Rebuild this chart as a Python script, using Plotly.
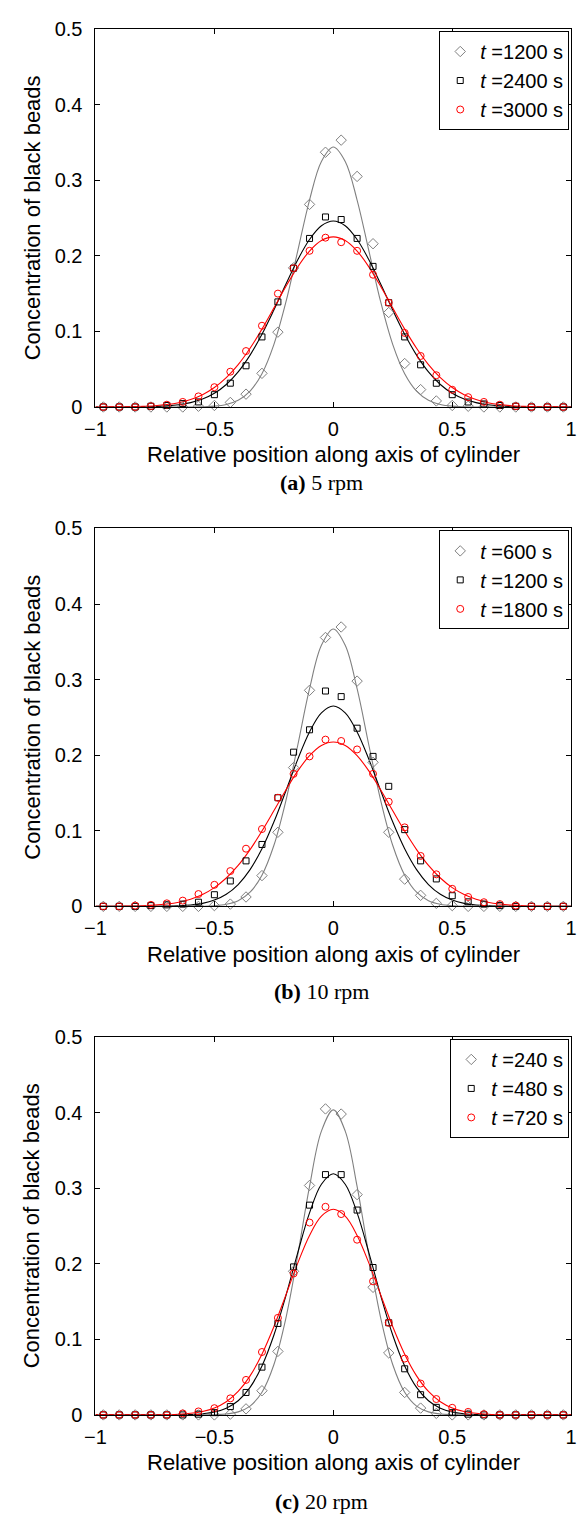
import plotly.graph_objects as go

W, H = 583, 1522

# ---------------- data ----------------
x_pos = [-0.967, -0.9, -0.833, -0.767, -0.7, -0.633, -0.567, -0.5, -0.433, -0.367,
         -0.3, -0.233, -0.167, -0.1, -0.033, 0.033, 0.1, 0.167, 0.233, 0.3,
         0.367, 0.433, 0.5, 0.567, 0.633, 0.7, 0.767, 0.833, 0.9, 0.967]

fit_x = [-1.0, -0.95, -0.9, -0.85, -0.8, -0.75, -0.7, -0.65, -0.6, -0.55,
         -0.5, -0.45, -0.4, -0.35, -0.3, -0.25, -0.2, -0.15, -0.1, -0.05,
         0.0, 0.05, 0.1, 0.15, 0.2, 0.25, 0.3, 0.35, 0.4, 0.45,
         0.5, 0.55, 0.6, 0.65, 0.7, 0.75, 0.8, 0.85, 0.9, 0.95, 1.0]

# (a) 5 rpm
a_gray_pts = [0, 0, 0, 0, 0, 0, 0.001, 0.002, 0.006, 0.017, 0.0445, 0.099, 0.184, 0.268, 0.337,
              0.353, 0.305, 0.216, 0.125, 0.0575, 0.023, 0.008, 0.002, 0.001, 0, 0, 0, 0, 0, 0]
a_black_pts = [0, 0, 0, 0.001, 0.002, 0.0045, 0.0067, 0.0163, 0.0315, 0.0545, 0.0927, 0.139, 0.1836, 0.223, 0.2514,
               0.248, 0.223, 0.186, 0.138, 0.0927, 0.0558, 0.0314, 0.0163, 0.0066, 0.004, 0.002, 0.001, 0, 0, 0]
a_red_pts = [0, 0, 0, 0.001, 0.003, 0.0067, 0.014, 0.0262, 0.0467, 0.074, 0.1075, 0.15, 0.1836, 0.2066, 0.224,
             0.218, 0.2066, 0.175, 0.138, 0.098, 0.0675, 0.042, 0.0228, 0.013, 0.0067, 0.003, 0.001, 0, 0, 0]
a_gray_fit = [0, 0, 0, 0, 0, 0, 0, 0, 0, 0.0003, 0.0011, 0.0034, 0.0089, 0.021, 0.0441, 0.0826, 0.138, 0.2058, 0.2738, 0.3249,
              0.344, 0.3249, 0.2738, 0.2058, 0.138, 0.0826, 0.0441, 0.021, 0.0089, 0.0034, 0.0011, 0.0003, 0, 0, 0, 0, 0, 0, 0, 0, 0]
a_black_fit = [0, 0, 0, 0.0001, 0.0003, 0.0007, 0.0015, 0.003, 0.0058, 0.0105, 0.0181, 0.0298, 0.0464, 0.0686, 0.0962, 0.1282, 0.1621, 0.1945, 0.2216, 0.2397,
               0.246, 0.2397, 0.2216, 0.1945, 0.1621, 0.1282, 0.0962, 0.0686, 0.0464, 0.0298, 0.0181, 0.0105, 0.0058, 0.003, 0.0015, 0.0007, 0.0003, 0.0001, 0, 0, 0]
a_red_fit = [0, 0.0001, 0.0002, 0.0004, 0.0009, 0.0017, 0.0032, 0.0057, 0.0099, 0.0163, 0.0257, 0.0388, 0.0561, 0.0777, 0.103, 0.1308, 0.159, 0.1851, 0.2063, 0.2202,
             0.225, 0.2202, 0.2063, 0.1851, 0.159, 0.1308, 0.103, 0.0777, 0.0561, 0.0388, 0.0257, 0.0163, 0.0099, 0.0057, 0.0032, 0.0017, 0.0009, 0.0004, 0.0002, 0.0001, 0]

# (b) 10 rpm
b_gray_pts = [0, 0, 0, 0, 0, 0, 0, 0.001, 0.003, 0.0124, 0.0407, 0.098, 0.1836, 0.2858, 0.3557,
              0.3696, 0.298, 0.1906, 0.098, 0.036, 0.0146, 0.004, 0.001, 0, 0, 0, 0, 0, 0, 0]
b_black_pts = [0, 0, 0, 0.001, 0.002, 0.003, 0.0055, 0.0154, 0.0336, 0.0602, 0.0819, 0.1437, 0.204, 0.2336, 0.2849,
               0.2775, 0.2357, 0.1984, 0.1588, 0.1015, 0.0602, 0.0363, 0.0141, 0.006, 0.003, 0.001, 0, 0, 0, 0]
b_red_pts = [0, 0, 0.001, 0.002, 0.004, 0.0076, 0.0163, 0.0285, 0.0467, 0.0763, 0.1023, 0.1437, 0.1753, 0.1984, 0.2206,
             0.2188, 0.2076, 0.1753, 0.1384, 0.1045, 0.0667, 0.0424, 0.0232, 0.0124, 0.0055, 0.003, 0.001, 0, 0, 0]
b_gray_fit = [0, 0, 0, 0, 0, 0, 0, 0, 0, 0.0002, 0.0008, 0.0027, 0.0075, 0.0187, 0.0413, 0.0805, 0.139, 0.2125, 0.2879, 0.3454,
              0.367, 0.3454, 0.2879, 0.2125, 0.139, 0.0805, 0.0413, 0.0187, 0.0075, 0.0027, 0.0008, 0.0002, 0, 0, 0, 0, 0, 0, 0, 0, 0]
b_black_fit = [0, 0, 0, 0, 0, 0.0001, 0.0003, 0.0008, 0.0018, 0.004, 0.0083, 0.016, 0.0289, 0.0486, 0.0762, 0.1115, 0.1523, 0.1941, 0.2307, 0.256,
               0.265, 0.256, 0.2307, 0.1941, 0.1523, 0.1115, 0.0762, 0.0486, 0.0289, 0.016, 0.0083, 0.004, 0.0018, 0.0008, 0.0003, 0.0001, 0, 0, 0, 0, 0]
b_red_fit = [0, 0.0001, 0.0002, 0.0004, 0.0008, 0.0016, 0.0031, 0.0055, 0.0095, 0.0157, 0.0248, 0.0375, 0.0542, 0.0751, 0.0996, 0.1264, 0.1537, 0.1789, 0.1994, 0.2129,
             0.2175, 0.2129, 0.1994, 0.1789, 0.1537, 0.1264, 0.0996, 0.0751, 0.0542, 0.0375, 0.0248, 0.0157, 0.0095, 0.0055, 0.0031, 0.0016, 0.0008, 0.0004, 0.0002, 0.0001, 0]

# (c) 20 rpm
c_gray_pts = [0, 0, 0, 0, 0, 0, 0, 0, 0.001, 0.008, 0.032, 0.084, 0.19, 0.3035, 0.4048,
              0.398, 0.2914, 0.1688, 0.082, 0.0297, 0.009, 0.002, 0, 0, 0, 0, 0, 0, 0, 0]
c_black_pts = [0, 0, 0, 0, 0, 0, 0.001, 0.003, 0.011, 0.0297, 0.0632, 0.121, 0.1958, 0.2775, 0.3179,
               0.3179, 0.271, 0.195, 0.1219, 0.061, 0.0267, 0.01, 0.003, 0.001, 0, 0, 0, 0, 0, 0]
c_red_pts = [0, 0, 0, 0, 0, 0.002, 0.0046, 0.0089, 0.0219, 0.0463, 0.0832, 0.1284, 0.1871, 0.2545, 0.2753,
             0.2657, 0.2318, 0.1767, 0.1219, 0.0745, 0.0415, 0.021, 0.0094, 0.004, 0.001, 0, 0, 0, 0, 0]
c_gray_fit = [0, 0, 0, 0, 0, 0, 0, 0, 0, 0.0001, 0.0003, 0.0012, 0.004, 0.0117, 0.03, 0.0664, 0.1271, 0.2107, 0.3023, 0.3754,
              0.4035, 0.3754, 0.3023, 0.2107, 0.1271, 0.0664, 0.03, 0.0117, 0.004, 0.0012, 0.0003, 0.0001, 0, 0, 0, 0, 0, 0, 0, 0, 0]
c_black_fit = [0, 0, 0, 0, 0, 0, 0.0001, 0.0002, 0.0005, 0.0015, 0.0038, 0.0088, 0.0187, 0.0364, 0.0648, 0.1054, 0.157, 0.2141, 0.2672, 0.3052,
               0.319, 0.3052, 0.2672, 0.2141, 0.157, 0.1054, 0.0648, 0.0364, 0.0187, 0.0088, 0.0038, 0.0015, 0.0005, 0.0002, 0.0001, 0, 0, 0, 0, 0, 0]
c_red_fit = [0, 0, 0, 0, 0, 0.0001, 0.0004, 0.0009, 0.0021, 0.0045, 0.0092, 0.0175, 0.0311, 0.0517, 0.0803, 0.1166, 0.1581, 0.2005, 0.2375, 0.2629,
             0.272, 0.2629, 0.2375, 0.2005, 0.1581, 0.1166, 0.0803, 0.0517, 0.0311, 0.0175, 0.0092, 0.0045, 0.0021, 0.0009, 0.0004, 0.0001, 0, 0, 0, 0, 0]

a_times = ["1200", "2400", "3000"]
b_times = ["600", "1200", "1800"]
c_times = ["240", "480", "720"]
captions = ["<b>(a)</b> 5 rpm", "<b>(b)</b> 10 rpm", "<b>(c)</b> 20 rpm"]
x_ticks = [-1, -0.5, 0, 0.5, 1]
y_ticks = [0, 0.1, 0.2, 0.3, 0.4, 0.5]
x_title = "Relative position along axis of cylinder"
y_title = "Concentration of black beads"

# ---------------- styling / layout ----------------
GRAY = "#808080"
BLACK = "#000000"
RED = "#ff0000"
SANS = "Liberation Sans, Arial, sans-serif"
SERIF = "Liberation Serif, Times New Roman, serif"

panels = [
    dict(top=18.3, bottom=401.8, xt=450, cap=478, times=a_times,
         pts=(a_gray_pts, a_black_pts, a_red_pts), fit=(a_gray_fit, a_black_fit, a_red_fit)),
    dict(top=525.0, bottom=908.5, xt=957, cap=995, times=b_times,
         pts=(b_gray_pts, b_black_pts, b_red_pts), fit=(b_gray_fit, b_black_fit, b_red_fit)),
    dict(top=1041.0, bottom=1424.5, xt=1473, cap=1512, times=c_times,
         pts=(c_gray_pts, c_black_pts, c_red_pts), fit=(c_gray_fit, c_black_fit, c_red_fit)),
]
X_LEFT, X_RIGHT = 87.0, 577.0

fig = go.Figure()
colors = [GRAY, BLACK, RED]
symbols = ["diamond-open", "square-open", "circle-open"]
msizes = [8, 6, 7]
annotations = []
layout_axes = {}

for i, p in enumerate(panels):
    sfx = "" if i == 0 else str(i + 1)
    xa, ya = "x" + sfx, "y" + sfx
    leg = "legend" + sfx
    for j in range(3):
        fig.add_trace(go.Scatter(
            x=fit_x, y=p["fit"][j], mode="lines", xaxis=xa, yaxis=ya,
            line=dict(color=colors[j], width=1.1, shape="spline", smoothing=1.0),
            showlegend=False, hoverinfo="skip", cliponaxis=False))
    for j in range(3):
        fig.add_trace(go.Scatter(
            x=x_pos, y=p["pts"][j], mode="markers", xaxis=xa, yaxis=ya,
            marker=dict(symbol=symbols[j], size=msizes[j], color=colors[j],
                        line=dict(color=colors[j], width=1)),
            name="<i>t</i> =" + p["times"][j] + " s", legend=leg, cliponaxis=False))

    dom_y = [1 - p["bottom"] / H, 1 - p["top"] / H]
    common = dict(showgrid=False, zeroline=False, showline=True, linecolor="black",
                  linewidth=1, mirror="ticks", ticks="inside", ticklen=5,
                  tickcolor="black", tickwidth=1,
                  tickfont=dict(family=SANS, size=20, color="black"))
    layout_axes["xaxis" + sfx] = dict(common, domain=[X_LEFT / W, X_RIGHT / W], range=[-1, 1],
                                      tickvals=x_ticks, anchor=ya, ticklabelstandoff=4)
    layout_axes["yaxis" + sfx] = dict(common, domain=dom_y, range=[0, 0.5],
                                      tickvals=y_ticks, anchor=xa, ticklabelstandoff=8)
    layout_axes[leg] = dict(x=575 / W, xanchor="right", y=1 - (p["top"] + 2) / H, yanchor="top",
                            bgcolor="white", bordercolor="black", borderwidth=1,
                            font=dict(family=SANS, size=20, color="black"),
                            itemwidth=30, tracegroupgap=0)
    annotations.append(dict(text=y_title, x=22 / W, y=1 - (p["top"] + p["bottom"]) / 2 / H,
                            xref="paper", yref="paper", showarrow=False, textangle=-90,
                            xanchor="center", yanchor="middle",
                            font=dict(family=SANS, size=22, color="black")))
    annotations.append(dict(text=x_title, x=(X_LEFT + X_RIGHT) / 2 / W, y=1 - p["xt"] / H,
                            xref="paper", yref="paper", showarrow=False,
                            xanchor="center", yanchor="middle",
                            font=dict(family=SANS, size=22, color="black")))
    annotations.append(dict(text=captions[i], x=320 / W, y=1 - p["cap"] / H,
                            xref="paper", yref="paper", showarrow=False,
                            xanchor="center", yanchor="middle",
                            font=dict(family=SERIF, size=22, color="black")))

fig.update_layout(
    width=W, height=H, margin=dict(l=0, r=0, t=0, b=0),
    paper_bgcolor="white", plot_bgcolor="white",
    annotations=annotations, **layout_axes)

fig.write_html("out.html", config={"displayModeBar": False},
               post_script="document.body.style.margin='0';document.body.style.overflow='hidden';")
